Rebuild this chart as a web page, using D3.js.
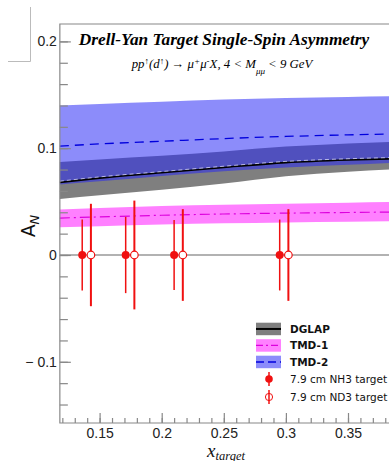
<!DOCTYPE html>
<html>
<head>
<meta charset="utf-8">
<script src="https://cdn.jsdelivr.net/npm/d3@7"></script>
<style>
  body { margin: 0; background: #fff; }
  svg { display: block; }
</style>
</head>
<body>
<div id="chart"></div>
<script>
// curve sampling points (x_target)
const xGrid = [0.118, 0.15, 0.2, 0.25, 0.3, 0.35, 0.4];

// DGLAP band
const dglapHigh = [0.087, 0.0895, 0.093, 0.097, 0.1015, 0.1045, 0.1065];
const dglapMid  = [0.068, 0.072, 0.077, 0.082, 0.0865, 0.089, 0.0905];
const dglapLow  = [0.0525, 0.056, 0.061, 0.067, 0.0738, 0.078, 0.081];

// TMD-1 band
const tmd1High = [0.0427, 0.044, 0.0458, 0.047, 0.048, 0.049, 0.0498];
const tmd1Mid  = [0.0346, 0.0357, 0.0372, 0.0384, 0.0392, 0.0398, 0.0404];
const tmd1Low  = [0.026, 0.027, 0.0285, 0.0297, 0.0305, 0.0312, 0.0318];

// TMD-2 band
const tmd2High = [0.140, 0.1415, 0.1435, 0.1455, 0.147, 0.148, 0.149];
const tmd2Mid  = [0.102, 0.104, 0.1065, 0.109, 0.111, 0.1125, 0.1135];
const tmd2Low  = [0.066, 0.069, 0.074, 0.0785, 0.082, 0.0845, 0.087];

// projected points
const nh3X = [0.136, 0.171, 0.210, 0.295];
const nh3Y = [0, 0, 0, 0];
const nh3Err = [0.0325, 0.035, 0.032, 0.0325];
const nd3X = [0.143, 0.178, 0.217, 0.302];
const nd3Y = [0, 0, 0, 0];
const nd3Err = [0.047, 0.050, 0.042, 0.042];

const xMajor = [0.15, 0.2, 0.25, 0.3, 0.35];
const yMajor = [-0.1, 0, 0.1, 0.2];

const W = 389, H = 461;

const x = d3.scaleLinear().domain([0.15, 0.35]).range([99.6, 348]);
const y = d3.scaleLinear().domain([0, 0.1]).range([255, 148.2]);

const xMin = 0.118, xMax = 0.4;
const yMin = -0.1573, yMax = 0.2163;
const frameL = x(xMin), frameT = y(yMax), frameB = y(yMin);

const svg = d3.select("#chart").append("svg")
  .attr("width", W)
  .attr("height", H);

// stray crop marks top-left
svg.append("path")
  .attr("d", "M30.5,7 V61.5 H8")
  .attr("fill", "none")
  .attr("stroke", "#bbb")
  .attr("stroke-width", 1);

const plot = svg.append("g");

function band(lo, hi) {
  return d3.area()
    .x((d, i) => x(xGrid[i]))
    .y0((d, i) => y(lo[i]))
    .y1((d, i) => y(hi[i]))
    .curve(d3.curveMonotoneX)(xGrid);
}
function curve(vals) {
  return d3.line()
    .x((d, i) => x(xGrid[i]))
    .y((d, i) => y(vals[i]))
    .curve(d3.curveMonotoneX)(xGrid);
}

const greyFill = "#7f7f7f";
const blueFill = "#2626f5", blueOpacity = 0.53;
const magFill = "#ff80ff";

// zero line
plot.append("line")
  .attr("x1", frameL).attr("x2", W)
  .attr("y1", y(0)).attr("y2", y(0))
  .attr("stroke", "#999").attr("stroke-width", 1.5);

// DGLAP
plot.append("path").attr("d", band(dglapLow, dglapHigh)).attr("fill", greyFill);
// TMD-2
plot.append("path").attr("d", band(tmd2Low, tmd2High))
  .attr("fill", blueFill).attr("fill-opacity", blueOpacity);
// TMD-1
plot.append("path").attr("d", band(tmd1Low, tmd1High)).attr("fill", magFill);

plot.append("path").attr("d", curve(dglapMid))
  .attr("fill", "none").attr("stroke", "#000").attr("stroke-width", 1.6);
plot.append("path").attr("d", curve(dglapMid))
  .attr("transform", "translate(0,-1.2)")
  .attr("fill", "none").attr("stroke", "#fff").attr("stroke-width", 0.6)
  .attr("stroke-dasharray", "4,3");

plot.append("path").attr("d", curve(tmd2Mid))
  .attr("fill", "none").attr("stroke", "#0000dd").attr("stroke-width", 1.3)
  .attr("stroke-dasharray", "9,6");
plot.append("path").attr("d", curve(tmd1Mid))
  .attr("fill", "none").attr("stroke", "#dd00dd").attr("stroke-width", 1.2)
  .attr("stroke-dasharray", "10,4,2,4");

// error bars + markers
const red = "#f01010";
nh3X.forEach((v, i) => {
  plot.append("line")
    .attr("x1", x(v)).attr("x2", x(v))
    .attr("y1", y(nh3Y[i] + nh3Err[i])).attr("y2", y(nh3Y[i] - nh3Err[i]))
    .attr("stroke", red).attr("stroke-width", 1.5).attr("stroke-linecap", "square");
  plot.append("circle")
    .attr("cx", x(v)).attr("cy", y(nh3Y[i])).attr("r", 4)
    .attr("fill", red);
});
nd3X.forEach((v, i) => {
  plot.append("line")
    .attr("x1", x(v)).attr("x2", x(v))
    .attr("y1", y(nd3Y[i] + nd3Err[i])).attr("y2", y(nd3Y[i] - nd3Err[i]))
    .attr("stroke", red).attr("stroke-width", 2).attr("stroke-linecap", "square");
  plot.append("circle")
    .attr("cx", x(v)).attr("cy", y(nd3Y[i])).attr("r", 3.8)
    .attr("fill", "#fff").attr("stroke", red).attr("stroke-width", 1.2);
});

// frame
svg.append("path")
  .attr("d", `M${W},${frameT} H${frameL} V${frameB} H${W}`)
  .attr("fill", "none").attr("stroke", "#888").attr("stroke-width", 1.2);

// axes
const axisColor = "#888";
svg.append("g").attr("transform", `translate(${frameL},0)`)
  .call(d3.axisLeft(y).tickValues(yMajor).tickSize(-11).tickPadding(3)
    .tickFormat(d => d < 0 ? "\u2212 " + Math.abs(d) : d));
svg.append("g").attr("transform", `translate(${frameL},0)`)
  .call(d3.axisLeft(y).tickValues(d3.range(-7, 11).map(k => k * 0.02).filter(v => v > yMin))
    .tickSize(-8).tickFormat(""));

svg.append("g").attr("transform", `translate(0,${frameB})`)
  .call(d3.axisBottom(x).tickValues(xMajor).tickSize(-10).tickPadding(5)
    .tickFormat(d3.format("")));
svg.append("g").attr("transform", `translate(0,${frameB})`)
  .call(d3.axisBottom(x).tickValues(d3.range(12, 41).map(k => k / 100)).tickSize(-5).tickFormat(""));

svg.selectAll(".domain").remove();
svg.selectAll(".tick line").attr("stroke", axisColor).attr("stroke-width", 1.2);
svg.selectAll(".tick text")
  .attr("fill", "#222")
  .style("font-family", "Liberation Sans, Arial, sans-serif")
  .style("font-size", "14px");

// titles
svg.append("text")
  .attr("x", 224).attr("y", 45)
  .attr("text-anchor", "middle")
  .style("font-family", "Liberation Serif, Times New Roman, serif")
  .style("font-size", "17.3px").style("font-weight", "bold").style("font-style", "italic")
  .text("Drell-Yan Target Single-Spin Asymmetry");

const sub = svg.append("text")
  .attr("x", 222).attr("y", 68)
  .attr("text-anchor", "middle")
  .style("font-family", "Liberation Serif, Times New Roman, serif")
  .style("font-size", "12.8px").style("font-style", "italic");
sub.append("tspan").text("pp");
sub.append("tspan").attr("dy", -4).style("font-size", "9px").text("\u2191");
sub.append("tspan").attr("dy", 4).text("(d");
sub.append("tspan").attr("dy", -4).style("font-size", "9px").text("\u2191");
sub.append("tspan").attr("dy", 4).text(") \u2192 \u03bc");
sub.append("tspan").attr("dy", -4).style("font-size", "9px").text("+");
sub.append("tspan").attr("dy", 4).text("\u03bc");
sub.append("tspan").attr("dy", -4).style("font-size", "9px").text("-");
sub.append("tspan").attr("dy", 4).text("X, 4 < M");
sub.append("tspan").attr("dy", 6).style("font-size", "9px").text("\u03bc\u03bc");
sub.append("tspan").attr("dy", -6).text(" < 9 GeV");

// axis titles
const yt = svg.append("text")
  .attr("transform", "translate(35,226) rotate(-90)")
  .attr("text-anchor", "middle")
  .style("font-family", "DejaVu Sans, sans-serif")
  .style("font-size", "19px").attr("fill", "#111");
yt.append("tspan").text("A");
yt.append("tspan").attr("dy", 4).style("font-size", "13px").style("font-style", "italic").text("N");

const xt = svg.append("text")
  .attr("x", 226).attr("y", 456.5)
  .attr("text-anchor", "middle")
  .style("font-family", "Liberation Serif, Times New Roman, serif")
  .style("font-size", "19px").style("font-style", "italic").attr("fill", "#111");
xt.append("tspan").text("x");
xt.append("tspan").attr("dy", 3).style("font-size", "12.5px").text("target");

// legend
const legend = svg.append("g");
const lgX = 256, lgW = 25, lgH = 12.5, txtX = 290;
const legendFont = "DejaVu Sans, sans-serif";
const bands = [
  { label: "DGLAP", y: 322.7, fill: greyFill, op: 1, stroke: "#000", dash: null, sw: 2 },
  { label: "TMD-1", y: 339.2, fill: magFill, op: 1, stroke: "#dd00dd", dash: "7,3,2,3", sw: 1.3 },
  { label: "TMD-2", y: 355.7, fill: blueFill, op: blueOpacity, stroke: "#0000dd", dash: "8,4", sw: 1.4 }
];
bands.forEach(b => {
  legend.append("rect").attr("x", lgX).attr("y", b.y).attr("width", lgW).attr("height", lgH)
    .attr("fill", b.fill).attr("fill-opacity", b.op);
  legend.append("line").attr("x1", lgX).attr("x2", lgX + lgW)
    .attr("y1", b.y + lgH / 2).attr("y2", b.y + lgH / 2)
    .attr("stroke", b.stroke).attr("stroke-width", b.sw)
    .attr("stroke-dasharray", b.dash);
  legend.append("text").attr("x", txtX).attr("y", b.y + lgH / 2 + 4)
    .style("font-family", legendFont).style("font-size", "10.5px").style("font-weight", "600")
    .attr("fill", "#111").text(b.label);
});
// marker entries
legend.append("line").attr("x1", 269).attr("x2", 269).attr("y1", 372).attr("y2", 386)
  .attr("stroke", red).attr("stroke-width", 1.5);
legend.append("circle").attr("cx", 269).attr("cy", 379).attr("r", 3.8).attr("fill", red);
legend.append("text").attr("x", txtX).attr("y", 383)
  .style("font-family", legendFont).style("font-size", "10.5px").attr("fill", "#111")
  .text("7.9 cm NH3 target");
legend.append("circle").attr("cx", 269).attr("cy", 397).attr("r", 3.6)
  .attr("fill", "#fff").attr("stroke", red).attr("stroke-width", 1);
legend.append("line").attr("x1", 269).attr("x2", 269).attr("y1", 390).attr("y2", 404)
  .attr("stroke", red).attr("stroke-width", 1.5);
legend.append("text").attr("x", txtX).attr("y", 401)
  .style("font-family", legendFont).style("font-size", "10.5px").attr("fill", "#111")
  .text("7.9 cm ND3 target");
</script>
</body>
</html>
